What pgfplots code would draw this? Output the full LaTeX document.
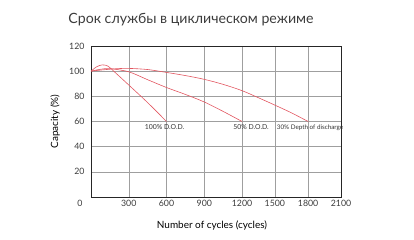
\documentclass[border=0pt]{standalone}
\usepackage{pgfplots}
\pgfplotsset{compat=1.18}
\usepackage{fontspec}
\setmainfont{Lato}
\definecolor{curve}{RGB}{226,86,96}
\definecolor{txt}{RGB}{60,60,60}
\begin{document}
\begin{tikzpicture}[x=1bp,y=1bp]
\begin{axis}[
  name=ax,
  scale only axis,
  width=250bp, height=151bp,
  xmin=0, xmax=6.62, ymin=0, ymax=120,
  xtick={1,2,3,4,4.87,5.75,6.62},
  xticklabels={300,600,900,1200,1500,1800,2100},
  ytick={20,40,60,80,100,120},
  grid=major,
  major grid style={gray!75, line width=0.5pt},
  axis line style={black!85, line width=0.6pt},
  major tick length=0pt,
  /pgf/number format/assume math mode=true,
  tick label style={font=\fontsize{8.8}{9}\selectfont, text=txt},
  xticklabel style={anchor=center, yshift=-6bp},
  yticklabel style={anchor=east, xshift=-3bp},
  xlabel={Number of cycles (cycles)},
  ylabel={Capacity (\%)},
  label style={font=\fontsize{10.5}{12}\selectfont, text=txt},
  every axis x label/.style={at={(axis description cs:0.5,0)}, anchor=center, yshift=-28bp, xshift=-4bp},
  every axis y label/.style={at={(axis description cs:0,0.5)}, anchor=center, xshift=-36bp, rotate=90},
  every axis plot post/.append style={curve, line width=0.6pt, smooth, tension=0.5, mark=none},
  clip=false,
]
\addplot coordinates {(0,100) (0.15,103.5) (0.3,105) (0.45,104) (0.62,99.5) (1,89) (1.5,75) (2,60)};
\addplot coordinates {(0,100) (0.25,101.5) (0.5,102) (1,99.5) (1.5,93.2) (2,87) (2.5,81.5) (3,75.5) (3.5,68) (4,60)};
\addplot coordinates {(0,100) (0.3,101) (0.7,102) (1,102.2) (1.5,101.3) (2,99) (2.5,96.5) (3,93.5) (3.5,89.5) (4,84.5) (4.5,78) (4.87,73) (5.3,67) (5.75,60)};
\node[font=\fontsize{6.9}{7}\selectfont, text=black!80, anchor=north, inner sep=1pt] at (axis cs:1.95,58.5) {100\% D.O.D.};
\node[font=\fontsize{6.9}{7}\selectfont, text=black!80, anchor=north, inner sep=1pt] at (axis cs:4.24,58.5) {50\% D.O.D.};
\node[font=\fontsize{6.3}{7}\selectfont, text=black!80, anchor=north, inner sep=1pt] at (axis cs:5.8,58.5) {30\% Depth of discharge};
\end{axis}
\node[font=\fontsize{8.8}{9}\selectfont, text=txt] at ([shift={(-11bp,-6bp)}]ax.south west) {0};
\node[font=\fontsize{14.2}{16}\selectfont, text=txt] at ([shift={(100bp,177bp)}]ax.south west) {Срок службы в циклическом режиме};
\pgfresetboundingbox
\path[use as bounding box] ([shift={(-91bp,-43bp)}]ax.south west) rectangle ++(414bp,240bp);
\end{tikzpicture}
\end{document}
